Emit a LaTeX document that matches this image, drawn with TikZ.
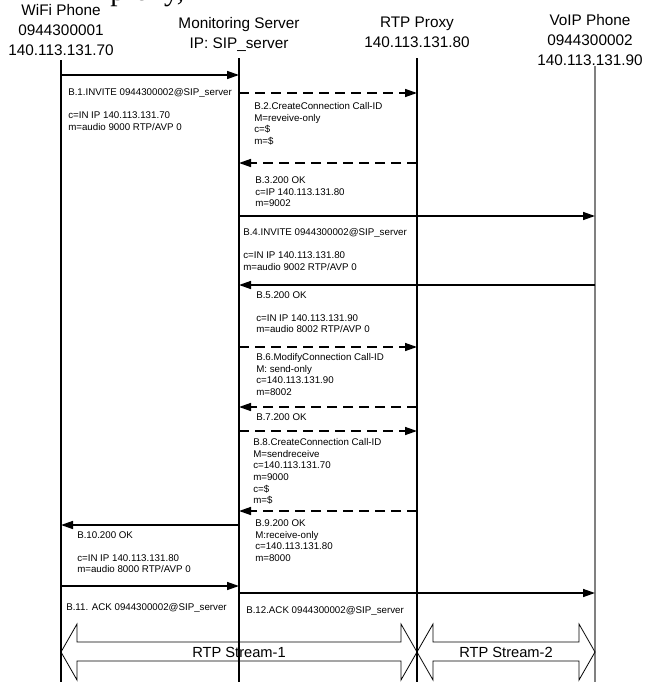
\documentclass[tikz,border=0pt]{standalone}
\usepackage{fontspec}
\setmainfont{Liberation Sans}
\newfontfamily\fragserif{Liberation Serif}
\usetikzlibrary{arrows.meta}
\begin{document}
\begin{tikzpicture}[x=0.75pt,y=-0.75pt,
  lifeline/.style={line width=0.8pt},
  msg/.style={line width=1.1pt,-{Triangle[length=9pt,width=6pt]}},
  dmsg/.style={msg,dash pattern=on 7.5pt off 4.5pt},
  lbl/.style={anchor=north west,inner sep=0pt,align=left,font=\fontsize{7.3}{8.7}\selectfont},
  head/.style={anchor=north,inner sep=0pt,align=center,font=\fontsize{11.5}{15}\selectfont},
  stream/.style={line width=0.6pt},
  slbl/.style={inner sep=0pt,font=\fontsize{11}{13}\selectfont}]
\useasboundingbox (0,0) rectangle (645,682);

% cropped caption fragment at the top
\node[name=frag,anchor=base west,inner sep=0pt,font=\fragserif\fontsize{22}{22}\selectfont] at (110,0) {proxy,};

% headers
\node[head,name=hW] at (61,4) {WiFi Phone\\0944300001\\140.113.131.70};
\node[head,name=hM] at (239,17) {Monitoring Server\\IP: SIP\_server};
\node[head,name=hP] at (417,17) {RTP Proxy\\140.113.131.80};
\node[head,name=hV] at (590,14) {VoIP Phone\\0944300002\\140.113.131.90};

% lifelines
\coordinate (Wt) at (61,60);  \coordinate (Wb) at (61,682);
\coordinate (Mt) at (239,58); \coordinate (Mb) at (239,682);
\coordinate (Pt) at (417,58); \coordinate (Pb) at (417,682);
\coordinate (Vt) at (595,66); \coordinate (Vb) at (595,682);
\draw[lifeline] (Wt) -- (Wb);
\draw[lifeline] (Mt) -- (Mb);
\draw[lifeline] (Pt) -- (Pb);
\draw[lifeline,gray] (Vt) -- (Vb);

% message anchor points
\foreach \i/\yy in {1/75,2/93,3/163,4/216,5/285,6/347,7/407,8/431,9/511,10/525,11/586,12/593}{
  \coordinate (W\i) at (61,\yy);
  \coordinate (M\i) at (239,\yy);
  \coordinate (P\i) at (417,\yy);
  \coordinate (V\i) at (595,\yy);
}

\draw[msg]  (W1) -- (M1);
\draw[dmsg] (M2) -- (P2);
\draw[dmsg] (P3) -- (M3);
\draw[msg]  (M4) -- (V4);
\draw[msg]  (V5) -- (M5);
\draw[dmsg] (M6) -- (P6);
\draw[dmsg] (P7) -- (M7);
\draw[dmsg] (M8) -- (P8);
\draw[dmsg] (P9) -- (M9);
\draw[msg]  (M10) -- (W10);
\draw[msg]  (W11) -- (M11);
\draw[msg]  (M12) -- (V12);

% labels
\node[lbl,name=l1] at (68,88.4) {B.1.INVITE 0944300002@SIP\_server\\[8.4pt]c=IN IP 140.113.131.70\\m=audio 9000 RTP/AVP 0};
\node[lbl,name=l2] at (254,102.4) {B.2.CreateConnection Call-ID\\M=reveive-only\\c=\$\\m=\$};
\node[lbl,name=l3] at (255,176.4) {B.3.200 OK\\c=IP 140.113.131.80\\m=9002};
\node[lbl,name=l4] at (243,228.4) {B.4.INVITE 0944300002@SIP\_server\\[8.4pt]c=IN IP 140.113.131.80\\m=audio 9002 RTP/AVP 0};
\node[lbl,name=l5] at (256,291.4) {B.5.200 OK\\[8.4pt]c=IN IP 140.113.131.90\\m=audio 8002 RTP/AVP 0};
\node[lbl,name=l6] at (256,353.4) {B.6.ModifyConnection Call-ID\\M: send-only\\c=140.113.131.90\\m=8002};
\node[lbl,name=l7] at (256,413.4) {B.7.200 OK};
\node[lbl,name=l8] at (253,438.4) {B.8.CreateConnection Call-ID\\M=sendreceive\\c=140.113.131.70\\m=9000\\c=\$\\m=\$};
\node[lbl,name=l9] at (255,519.4) {B.9.200 OK\\M:receive-only\\c=140.113.131.80\\m=8000};
\node[lbl,name=l10] at (77,531.4) {B.10.200 OK\\[8.4pt]c=IN IP 140.113.131.80\\m=audio 8000 RTP/AVP 0};
\node[lbl,name=l11] at (66,603.4) {B.11. ACK 0944300002@SIP\_server};
\node[lbl,name=l12] at (246,606.4) {B.12.ACK 0944300002@SIP\_server};

% RTP streams
\draw[stream] (61,652) -- (77,624) -- (77,642) -- (401,642) -- (401,624) -- (417,652)
  -- (401,680) -- (401,661) -- (77,661) -- (77,680) -- cycle;
\draw[stream] (417,652) -- (433,624) -- (433,642) -- (579,642) -- (579,624) -- (595,652)
  -- (579,680) -- (579,661) -- (433,661) -- (433,680) -- cycle;
\node[slbl,name=s1] at (239,652) {RTP Stream-1};
\node[slbl,name=s2] at (506,652) {RTP Stream-2};
\end{tikzpicture}
\end{document}
